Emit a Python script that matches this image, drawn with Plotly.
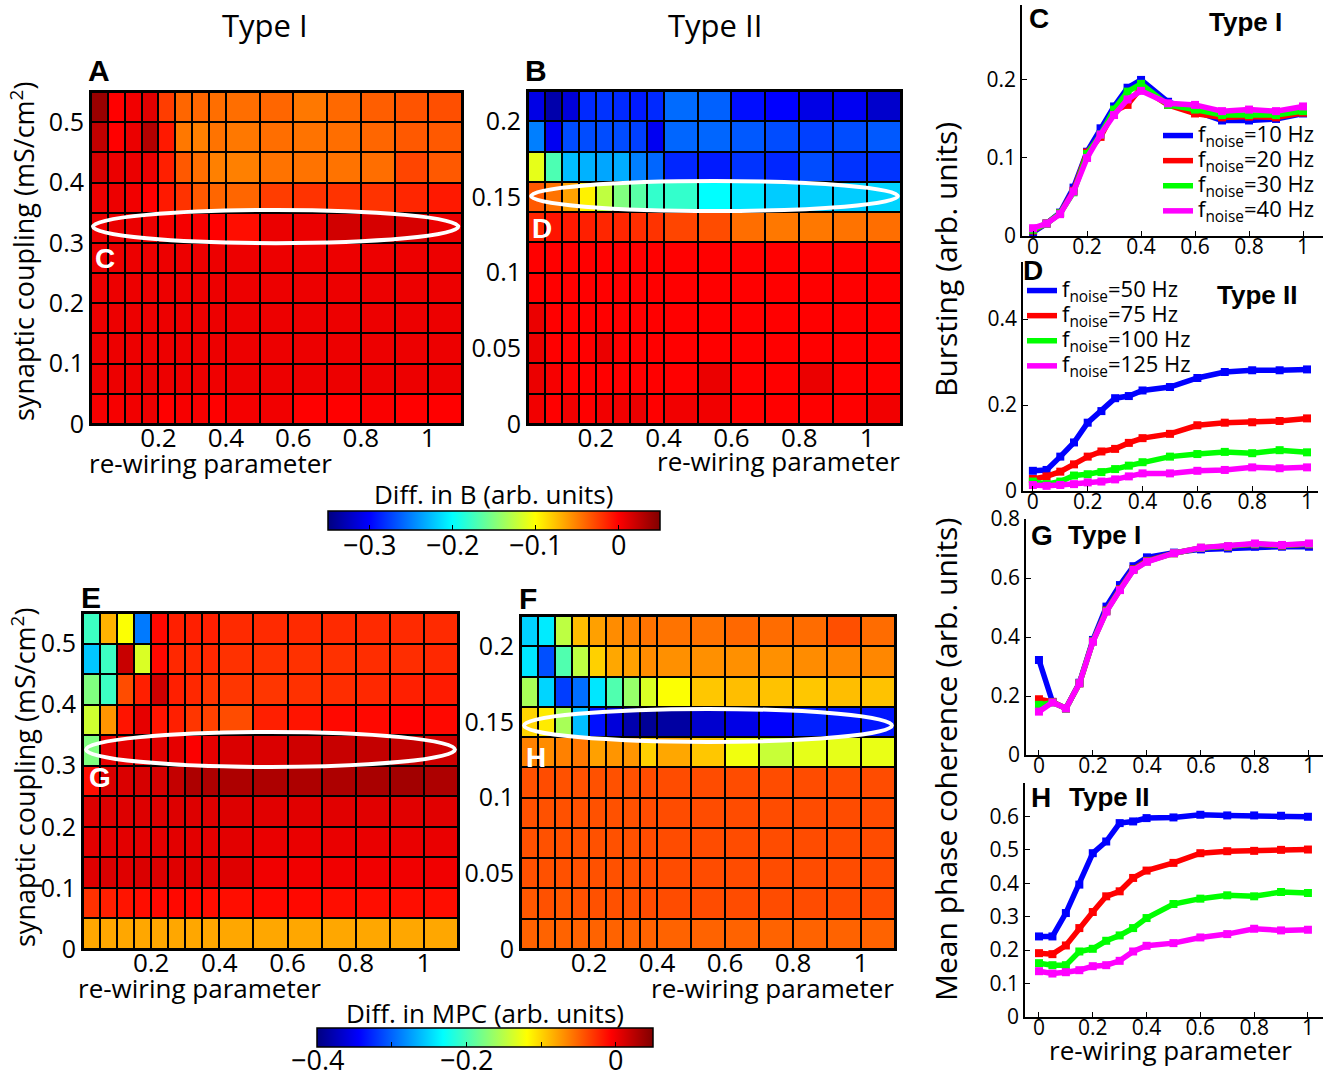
import plotly.graph_objects as go

W, H = 1338, 1076
def px(x): return x / W
def py(y): return 1 - y / H

FONT = "Open Sans"
BFONT = "Liberation Sans"

# ---------------- data ----------------
rewiring = [0, 0.05, 0.1, 0.15, 0.2, 0.25, 0.3, 0.35, 0.4, 0.5, 0.6, 0.7, 0.8, 0.9, 1.0]
rewiring_edges = rewiring + [1.1]
coupling_I = [0, 0.05, 0.1, 0.15, 0.2, 0.25, 0.3, 0.35, 0.4, 0.45, 0.5]
coupling_I_edges = coupling_I + [0.55]
coupling_II = [0, 0.02, 0.04, 0.06, 0.08, 0.1, 0.12, 0.14, 0.16, 0.18, 0.2]
coupling_II_edges = coupling_II + [0.22]

# Panel A: Diff. in B, Type I (rows bottom -> top)
diffB_typeI = [
    [0.003, 0.003, 0.005, 0.007, 0.0, 0.003, 0.003, 0.0, 0.004, 0.005, 0.0, 0.0, 0.002, 0.0, 0.0],
    [0.007, 0.007, 0.007, 0.009, 0.007, 0.007, 0.007, 0.006, 0.007, 0.007, 0.007, 0.007, 0.007, 0.007, 0.007],
    [0.007, 0.007, 0.007, 0.007, 0.007, 0.007, 0.007, 0.007, 0.007, 0.007, 0.007, 0.007, 0.007, 0.007, 0.007],
    [0.007, 0.007, 0.007, 0.007, 0.007, 0.007, 0.007, 0.007, 0.007, 0.007, 0.007, 0.007, 0.007, 0.007, 0.007],
    [0.007, 0.007, 0.007, 0.007, 0.007, 0.007, 0.007, 0.007, 0.007, 0.007, 0.007, 0.007, 0.007, 0.007, 0.007],
    [0.007, 0.007, 0.007, 0.007, 0.007, 0.007, 0.007, 0.007, 0.007, 0.007, 0.007, 0.007, 0.007, 0.007, 0.007],
    [0.008, 0.008, 0.008, 0.007, 0.004, 0.004, 0.003, 0.0, -0.005, 0.008, 0.008, 0.018, 0.016, 0.016, 0.008],
    [0.007, 0.007, 0.005, 0.0, -0.01, -0.02, -0.035, -0.04, -0.04, -0.024, -0.02, -0.02, -0.02, -0.015, -0.01],
    [0.016, 0.008, 0.008, 0.008, -0.012, -0.035, -0.043, -0.05, -0.05, -0.045, -0.045, -0.045, -0.043, -0.027, -0.035],
    [0.025, 0.0, 0.008, 0.03, -0.01, -0.047, -0.05, -0.045, -0.047, -0.043, -0.045, -0.043, -0.04, -0.035, -0.035],
    [0.04, 0.0, 0.005, 0.012, -0.024, -0.04, -0.04, -0.043, -0.043, -0.04, -0.047, -0.041, -0.037, -0.033, -0.031],
]

# Panel B: Diff. in B, Type II
diffB_typeII = [
    [0.005, 0.0, 0.005, 0.0, 0.005, 0.005, 0.008, 0.0, 0.005, 0.005, 0.0, 0.0, 0.0, 0.0, 0.005],
    [0.008, 0.003, 0.0, 0.0, 0.0, 0.0, 0.0, 0.0, 0.0, 0.008, 0.0, 0.0, 0.008, 0.0, 0.0],
    [0.008, 0.0, 0.0, 0.0, 0.008, 0.0, 0.0, 0.0, 0.0, 0.0, 0.0, 0.0, 0.0, 0.0, 0.0],
    [0.008, 0.0, 0.0, 0.0, 0.0, 0.0, 0.0, 0.0, 0.0, 0.0, 0.0, 0.0, 0.0, 0.0, 0.0],
    [0.0, 0.0, 0.0, 0.0, 0.0, 0.0, 0.0, 0.0, 0.0, 0.0, 0.0, 0.0, 0.0, 0.0, 0.0],
    [0.0, 0.0, 0.0, 0.0, 0.0, 0.0, 0.0, 0.0, 0.0, 0.0, 0.0, 0.0, 0.0, 0.0, 0.0],
    [-0.015, -0.008, -0.01, -0.012, -0.015, -0.015, -0.018, -0.02, -0.027, -0.03, -0.043, -0.047, -0.047, -0.045, -0.043],
    [-0.035, -0.045, -0.063, -0.095, -0.125, -0.15, -0.165, -0.18, -0.18, -0.2, -0.21, -0.22, -0.22, -0.22, -0.217],
    [-0.11, -0.17, -0.226, -0.23, -0.235, -0.232, -0.25, -0.26, -0.285, -0.29, -0.28, -0.285, -0.27, -0.28, -0.28],
    [-0.25, -0.305, -0.27, -0.27, -0.27, -0.27, -0.275, -0.305, -0.26, -0.26, -0.265, -0.27, -0.275, -0.27, -0.265],
    [-0.31, -0.333, -0.315, -0.284, -0.28, -0.284, -0.29, -0.284, -0.258, -0.262, -0.295, -0.3, -0.31, -0.305, -0.32],
]

# Panel E: Diff. in MPC, Type I
diffMPC_typeI = [
    [-0.08, -0.08, -0.08, -0.08, -0.08, -0.08, -0.08, -0.08, -0.08, -0.08, -0.08, -0.08, -0.08, -0.08, -0.08],
    [-0.028, -0.02, -0.015, -0.012, -0.01, -0.01, -0.01, -0.012, -0.012, -0.01, -0.01, -0.012, -0.012, -0.012, -0.012],
    [0.008, 0.01, 0.008, 0.01, 0.01, 0.008, 0.008, 0.008, 0.008, 0.0, 0.0, 0.0, 0.0, 0.0, 0.0],
    [0.006, 0.006, 0.006, 0.006, 0.006, 0.006, 0.006, 0.006, 0.006, 0.003, 0.003, 0.003, 0.003, 0.003, 0.003],
    [0.009, 0.009, 0.009, 0.009, 0.009, 0.009, 0.009, 0.009, 0.009, 0.007, 0.007, 0.007, 0.007, 0.007, 0.007],
    [-0.012, 0.01, 0.01, 0.012, 0.012, 0.02, 0.03, 0.03, 0.03, 0.03, 0.03, 0.03, 0.032, 0.035, 0.03],
    [-0.175, 0.005, 0.005, 0.005, 0.008, 0.005, -0.005, 0.005, 0.01, 0.01, 0.015, 0.018, 0.02, 0.02, 0.015],
    [-0.14, -0.072, -0.015, 0.005, -0.015, -0.02, -0.03, -0.035, -0.04, -0.02, -0.015, -0.01, -0.01, -0.006, -0.01],
    [-0.175, -0.205, -0.04, -0.02, 0.015, -0.02, -0.024, -0.03, -0.03, -0.03, -0.028, -0.026, -0.024, -0.02, -0.018],
    [-0.256, -0.205, 0.018, -0.135, -0.01, -0.024, -0.024, -0.024, -0.028, -0.028, -0.028, -0.028, -0.026, -0.026, -0.024],
    [-0.205, -0.085, -0.12, -0.29, -0.01, -0.02, -0.02, -0.02, -0.025, -0.025, -0.025, -0.025, -0.025, -0.025, -0.025],
]

# Panel F: Diff. in MPC, Type II
diffMPC_typeII = [
    [-0.05, -0.05, -0.05, -0.05, -0.05, -0.05, -0.05, -0.05, -0.05, -0.05, -0.05, -0.05, -0.05, -0.05, -0.05],
    [-0.045, -0.042, -0.045, -0.042, -0.042, -0.042, -0.042, -0.04, -0.04, -0.04, -0.04, -0.04, -0.04, -0.04, -0.04],
    [-0.042, -0.042, -0.042, -0.042, -0.042, -0.042, -0.042, -0.04, -0.04, -0.04, -0.04, -0.04, -0.04, -0.04, -0.04],
    [-0.042, -0.042, -0.042, -0.042, -0.042, -0.042, -0.042, -0.04, -0.04, -0.04, -0.04, -0.04, -0.04, -0.04, -0.04],
    [-0.042, -0.042, -0.042, -0.042, -0.042, -0.042, -0.042, -0.04, -0.04, -0.04, -0.04, -0.04, -0.04, -0.04, -0.04],
    [-0.042, -0.04, -0.042, -0.042, -0.042, -0.042, -0.042, -0.04, -0.04, -0.04, -0.04, -0.04, -0.04, -0.04, -0.04],
    [-0.063, -0.068, -0.063, -0.059, -0.077, -0.072, -0.072, -0.098, -0.08, -0.094, -0.125, -0.143, -0.13, -0.13, -0.128],
    [-0.1, -0.11, -0.157, -0.26, -0.337, -0.36, -0.38, -0.39, -0.385, -0.365, -0.355, -0.345, -0.33, -0.335, -0.335],
    [-0.157, -0.25, -0.317, -0.295, -0.242, -0.196, -0.165, -0.135, -0.12, -0.094, -0.09, -0.092, -0.094, -0.09, -0.092],
    [-0.242, -0.309, -0.196, -0.148, -0.098, -0.08, -0.077, -0.068, -0.07, -0.07, -0.07, -0.07, -0.068, -0.066, -0.066],
    [-0.251, -0.24, -0.148, -0.09, -0.077, -0.068, -0.063, -0.057, -0.057, -0.057, -0.052, -0.054, -0.054, -0.041, -0.054],
]

# Line panels
burst_typeI = {
    "10": [0.005, 0.016, 0.03, 0.062, 0.108, 0.138, 0.166, 0.19, 0.2, 0.172, 0.16, 0.148, 0.148, 0.15, 0.157],
    "20": [0.007, 0.016, 0.029, 0.058, 0.107, 0.127, 0.16, 0.168, 0.19, 0.168, 0.157, 0.152, 0.153, 0.152, 0.158],
    "30": [0.008, 0.016, 0.029, 0.056, 0.105, 0.13, 0.162, 0.185, 0.195, 0.168, 0.162, 0.155, 0.155, 0.155, 0.16],
    "40": [0.01, 0.016, 0.028, 0.057, 0.1, 0.13, 0.155, 0.175, 0.186, 0.17, 0.168, 0.16, 0.162, 0.16, 0.166],
}
burst_typeII = {
    "50": [0.047, 0.049, 0.08, 0.113, 0.159, 0.186, 0.216, 0.221, 0.234, 0.242, 0.263, 0.277, 0.281, 0.281, 0.283],
    "75": [0.028, 0.034, 0.045, 0.062, 0.08, 0.092, 0.098, 0.112, 0.123, 0.133, 0.153, 0.159, 0.16, 0.163, 0.169],
    "100": [0.022, 0.016, 0.022, 0.036, 0.039, 0.044, 0.051, 0.059, 0.067, 0.08, 0.086, 0.091, 0.088, 0.095, 0.09],
    "125": [0.014, 0.012, 0.014, 0.016, 0.02, 0.022, 0.027, 0.034, 0.041, 0.041, 0.047, 0.049, 0.055, 0.053, 0.055],
}
mpc_typeI = {
    "10": [0.322, 0.18, 0.158, 0.245, 0.39, 0.503, 0.576, 0.64, 0.67, 0.686, 0.697, 0.7, 0.706, 0.706, 0.706],
    "20": [0.189, 0.18, 0.158, 0.243, 0.386, 0.49, 0.562, 0.63, 0.658, 0.684, 0.702, 0.706, 0.714, 0.71, 0.714],
    "30": [0.17, 0.178, 0.158, 0.243, 0.385, 0.488, 0.56, 0.628, 0.656, 0.684, 0.702, 0.707, 0.715, 0.711, 0.715],
    "40": [0.147, 0.178, 0.158, 0.243, 0.384, 0.486, 0.559, 0.627, 0.655, 0.684, 0.703, 0.708, 0.717, 0.712, 0.717],
}
mpc_typeII = {
    "50": [0.241, 0.241, 0.311, 0.396, 0.49, 0.525, 0.58, 0.585, 0.595, 0.597, 0.605, 0.603, 0.603, 0.602, 0.599],
    "75": [0.191, 0.188, 0.214, 0.266, 0.314, 0.361, 0.376, 0.416, 0.438, 0.461, 0.49, 0.496, 0.497, 0.5, 0.501],
    "100": [0.161, 0.155, 0.155, 0.196, 0.204, 0.228, 0.244, 0.266, 0.296, 0.338, 0.354, 0.364, 0.361, 0.374, 0.371],
    "125": [0.137, 0.13, 0.134, 0.14, 0.152, 0.155, 0.168, 0.196, 0.213, 0.221, 0.238, 0.248, 0.264, 0.259, 0.261],
}
line_colors = ["rgb(0,0,255)", "rgb(255,0,0)", "rgb(0,255,0)", "rgb(255,0,255)"]

cbarB_ticks = [-0.3, -0.2, -0.1, 0]
cbarB_labels = ["\u22120.3", "\u22120.2", "\u22120.1", "0"]
cbarMPC_ticks = [-0.4, -0.3, -0.2, -0.1, 0]
cbarMPC_labels = ["\u22120.4", "", "\u22120.2", "", "0"]

jet = [[0, "rgb(0,0,128)"], [0.125, "rgb(0,0,255)"], [0.375, "rgb(0,255,255)"],
       [0.625, "rgb(255,255,0)"], [0.875, "rgb(255,0,0)"], [1, "rgb(128,0,0)"]]

# ---------------- figure ----------------
fig = go.Figure()

heat_specs = [
    ("x", "y", diffB_typeI, coupling_I_edges, "coloraxis"),
    ("x2", "y2", diffB_typeII, coupling_II_edges, "coloraxis"),
    ("x3", "y3", diffMPC_typeI, coupling_I_edges, "coloraxis2"),
    ("x4", "y4", diffMPC_typeII, coupling_II_edges, "coloraxis2"),
]
for xa, ya, z, yedges, ca in heat_specs:
    fig.add_trace(go.Heatmap(x=rewiring_edges, y=yedges, z=z, xaxis=xa, yaxis=ya,
                             coloraxis=ca, xgap=2, ygap=2, hoverongaps=False))

line_specs = [
    ("x5", "y5", burst_typeI, "legend", True),
    ("x6", "y6", burst_typeII, "legend2", True),
    ("x7", "y7", mpc_typeI, None, False),
    ("x8", "y8", mpc_typeII, None, False),
]
for xa, ya, series, leg, showleg in line_specs:
    for (fval, vals), col in zip(series.items(), line_colors):
        kw = dict(legend=leg) if leg else {}
        label = ('<span style="font-size:22px">f<sub>noise</sub>=' + fval + ' Hz</span>')
        fig.add_trace(go.Scatter(
            x=rewiring, y=vals, xaxis=xa, yaxis=ya, mode="lines",
            line=dict(color=col, width=5.5), name=label, showlegend=showleg, **kw))
        fig.add_trace(go.Scatter(
            x=rewiring, y=vals, xaxis=xa, yaxis=ya, mode="markers",
            marker=dict(symbol="square", size=8, color=col), showlegend=False))

# axes domains (pixel boxes)
boxes = {
    1: (91, 462, 92, 424), 2: (528, 901, 91, 424), 3: (83, 458, 613, 949), 4: (521, 895, 616, 949),
    5: (1022, 1323, 5, 236), 6: (1023, 1318, 262, 491), 7: (1026, 1323, 519, 755), 8: (1025, 1323, 783, 1017),
}
xranges = {1: [0, 1.1], 2: [0, 1.1], 3: [0, 1.1], 4: [0, 1.1],
           5: [-0.041, 1.074], 6: [-0.036, 1.04], 7: [-0.048, 1.052], 8: [-0.052, 1.056]}
yranges = {1: [0, 0.55], 2: [0, 0.22], 3: [0, 0.55], 4: [0, 0.22],
           5: [0, 0.296], 6: [0, 0.533], 7: [0, 0.8], 8: [0, 0.7]}
ytickvals = {1: [0, 0.1, 0.2, 0.3, 0.4, 0.5], 2: [0, 0.05, 0.1, 0.15, 0.2],
             3: [0, 0.1, 0.2, 0.3, 0.4, 0.5], 4: [0, 0.05, 0.1, 0.15, 0.2],
             5: [0, 0.1, 0.2], 6: [0, 0.2, 0.4], 7: [0, 0.2, 0.4, 0.6, 0.8],
             8: [0, 0.1, 0.2, 0.3, 0.4, 0.5, 0.6]}

def fmt(v):
    return f"{v:g}"

for i in range(1, 9):
    x0, x1, y0, y1 = boxes[i]
    heat = i <= 4
    xt = [0.2, 0.4, 0.6, 0.8, 1] if heat else [0, 0.2, 0.4, 0.6, 0.8, 1]
    fsx = 26 if heat else 21
    fsy = 25 if heat else 21
    xa = dict(domain=[px(x0), px(x1)], range=xranges[i], anchor=f"y{i}" if i > 1 else "y",
              tickvals=xt, ticktext=[fmt(v) for v in xt], showgrid=False, zeroline=False,
              showline=True, linecolor="black", linewidth=2 if heat else 1.5, mirror=heat,
              ticks="" if heat else "inside", ticklen=5, tickcolor="black",
              ticklabelstandoff=-10 if heat else -9,
              tickfont=dict(size=fsx, color="black", family=FONT))
    ya = dict(domain=[py(y1), py(y0)], range=yranges[i], anchor=f"x{i}" if i > 1 else "x",
              tickvals=ytickvals[i], ticktext=[fmt(v) for v in ytickvals[i]], showgrid=False,
              zeroline=False, showline=True, linecolor="black", linewidth=2 if heat else 1.5,
              mirror=heat, ticks="" if heat else "inside", ticklen=5, tickcolor="black",
              tickfont=dict(size=fsy, color="black", family=FONT))
    key = "" if i == 1 else str(i)
    fig.update_layout({f"xaxis{key}": xa, f"yaxis{key}": ya})

# black backgrounds behind heatmaps (forms the cell borders)
shapes = []
for i in range(1, 5):
    key = "" if i == 1 else str(i)
    shapes.append(dict(type="rect", xref=f"x{key} domain", yref=f"y{key} domain",
                       x0=0, x1=1, y0=0, y1=1, fillcolor="black", line=dict(width=0), layer="below"))

# white ellipses
ell = [("x", "y", 0.006, 1.089, 0.2995, 0.3545), ("x2", "y2", 0.009, 1.091, 0.1407, 0.1605),
       ("x3", "y3", 0.009, 1.091, 0.298, 0.3552), ("x4", "y4", 0.009, 1.091, 0.1368, 0.1586)]
for xr, yr, a, b, c, d in ell:
    shapes.append(dict(type="circle", xref=xr, yref=yr, x0=a, x1=b, y0=c, y1=d,
                       line=dict(color="white", width=4), layer="above"))

cb_common = dict(orientation="h", xanchor="center", yanchor="top", lenmode="pixels",
                 thicknessmode="pixels", thickness=19, outlinecolor="black", outlinewidth=1.5,
                 ticks="inside", ticklen=5, tickcolor="black", xpad=0, ypad=0,
                 showticklabels=False)

CB1 = dict(center=494, top=511, len=332, cmin=-0.35, cmax=0.05)
CB2 = dict(center=485, top=1028, len=336, cmin=-0.4, cmax=0.05)

fig.update_layout(
    width=W, height=H, margin=dict(l=0, r=0, t=0, b=0, autoexpand=False),
    paper_bgcolor="white", plot_bgcolor="white",
    font=dict(family=FONT, color="black"),
    shapes=shapes,
    coloraxis=dict(colorscale=jet, cmin=CB1["cmin"], cmax=CB1["cmax"],
                   colorbar=dict(x=px(CB1["center"]), y=py(CB1["top"]), len=CB1["len"],
                                 tickvals=cbarB_ticks, **cb_common)),
    coloraxis2=dict(colorscale=jet, cmin=CB2["cmin"], cmax=CB2["cmax"],
                    colorbar=dict(x=px(CB2["center"]), y=py(CB2["top"]), len=CB2["len"],
                                  tickvals=cbarMPC_ticks, **cb_common)),
    legend=dict(x=px(1158), y=py(118), xanchor="left", yanchor="top", bgcolor="rgba(0,0,0,0)",
                font=dict(size=17, family=FONT, color="black"), tracegroupgap=0, itemwidth=30),
    legend2=dict(x=px(1022), y=py(273), xanchor="left", yanchor="top", bgcolor="rgba(0,0,0,0)",
                 font=dict(size=17, family=FONT, color="black"), tracegroupgap=0, itemwidth=30),
)

ann = []
def text(x, y, s, size, bold=False, color="black", xanchor="center", angle=0, family=FONT):
    ann.append(dict(x=px(x), y=py(y), xref="paper", yref="paper", text=f"<b>{s}</b>" if bold else s,
                    showarrow=False, xanchor=xanchor, yanchor="middle", textangle=angle,
                    font=dict(size=size, color=color, family=family)))

# colorbar tick labels placed from the colorbar value scale
for cb, ticks, labels, ly in [(CB1, cbarB_ticks, cbarB_labels, 544), (CB2, cbarMPC_ticks, cbarMPC_labels, 1059)]:
    left = cb["center"] - cb["len"] / 2
    for v, lab in zip(ticks, labels):
        if lab:
            xpix = left + (v - cb["cmin"]) / (cb["cmax"] - cb["cmin"]) * cb["len"]
            text(xpix, ly, lab, 27)

text(265, 25, "Type I", 31)
text(715, 25, "Type II", 31)
text(86, 70, "A", 30, True, xanchor="left", family=BFONT)
text(523, 70, "B", 30, True, xanchor="left", family=BFONT)
text(79, 597, "E", 30, True, xanchor="left", family=BFONT)
text(517, 598, "F", 30, True, xanchor="left", family=BFONT)
text(93, 258, "C", 28, True, "white", "left", family=BFONT)
text(530, 228, "D", 28, True, "white", "left", family=BFONT)
text(87, 777, "G", 28, True, "white", "left", family=BFONT)
text(524, 757, "H", 28, True, "white", "left", family=BFONT)
text(1027, 19, "C", 28, True, xanchor="left", family=BFONT)
text(1245, 22, "Type I", 26, True, family=BFONT)
text(1021, 270, "D", 28, True, xanchor="left", family=BFONT)
text(1257, 295, "Type II", 26, True, family=BFONT)
text(1029, 535, "G", 28, True, xanchor="left", family=BFONT)
text(1066, 535, "Type I", 26, True, xanchor="left", family=BFONT)
text(1029, 797, "H", 28, True, xanchor="left", family=BFONT)
text(1067, 797, "Type II", 26, True, xanchor="left", family=BFONT)
text(23, 252, "synaptic coupling (mS/cm<sup>2</sup>)", 27, angle=-90)
text(23, 778, "synaptic coupling (mS/cm<sup>2</sup>)", 27, angle=-90)
text(945, 260, "Bursting (arb. units)", 30, angle=-90)
text(945, 760, "Mean phase coherence (arb. units)", 30, angle=-90)
text(210, 463, "re-wiring parameter", 26)
text(778, 461, "re-wiring parameter", 26)
text(199, 988, "re-wiring parameter", 26)
text(772, 988, "re-wiring parameter", 26)
text(1170, 1050, "re-wiring parameter", 26)
text(494, 494, "Diff. in B (arb. units)", 26)
text(485, 1013, "Diff. in MPC (arb. units)", 26)
fig.update_layout(annotations=ann)

fig.write_html("out.html")
